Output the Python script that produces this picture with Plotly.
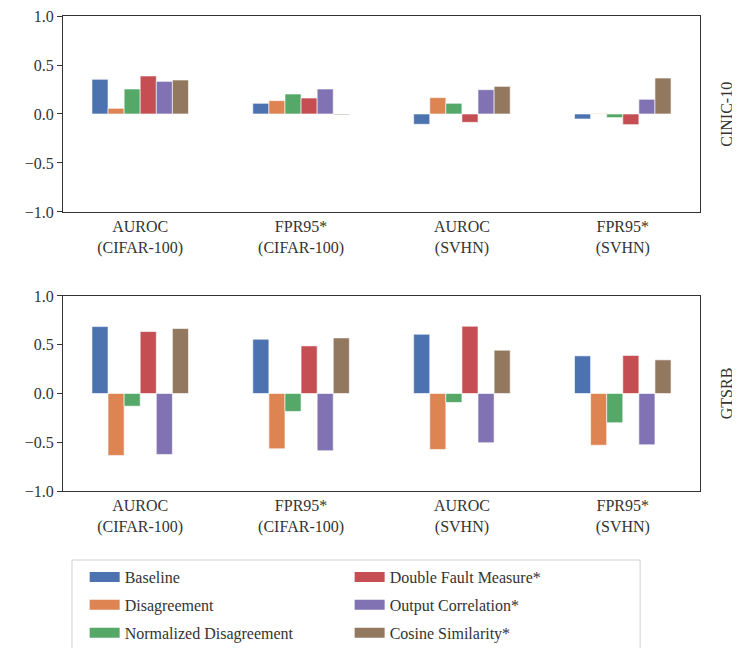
import plotly.graph_objects as go

groups = ["AUROC<br>(CIFAR-100)", "FPR95*<br>(CIFAR-100)", "AUROC<br>(SVHN)", "FPR95*<br>(SVHN)"]
series_names = ["Baseline", "Disagreement", "Normalized Disagreement",
                "Double Fault Measure*", "Output Correlation*", "Cosine Similarity*"]
colors = ["#4C72B0", "#DD8452", "#55A868", "#C44E52", "#8172B3", "#937860"]
legend_slot = ["legend", "legend", "legend", "legend2", "legend2", "legend2"]

cinic_values = [
    [0.354, 0.109, -0.105, -0.051],   # Baseline
    [0.058, 0.136, 0.167, 0.005],     # Disagreement
    [0.255, 0.204, 0.109, -0.037],    # Normalized Disagreement
    [0.388, 0.163, -0.085, -0.109],   # Double Fault Measure*
    [0.333, 0.255, 0.248, 0.150],     # Output Correlation*
    [0.347, -0.008, 0.282, 0.367],    # Cosine Similarity*
]
gtsrb_values = [
    [0.686, 0.557, 0.608, 0.386],
    [-0.635, -0.567, -0.574, -0.530],
    [-0.130, -0.184, -0.092, -0.300],
    [0.635, 0.488, 0.690, 0.390],
    [-0.625, -0.587, -0.505, -0.526],
    [0.666, 0.570, 0.444, 0.345],
]
row_labels = ["CINIC-10", "GTSRB"]
y_ticks = [-1.0, -0.5, 0.0, 0.5, 1.0]
y_tick_text = ["\u22121.0", "\u22120.5", "0.0", "0.5", "1.0"]

FONT = "Liberation Serif"
TXT = "#333333"
fig = go.Figure()

for i, name in enumerate(series_names):
    fig.add_trace(go.Bar(x=groups, y=cinic_values[i], name=name, showlegend=False,
                         marker=dict(color=colors[i], line=dict(color="white", width=0.6)),
                         xaxis="x", yaxis="y", offsetgroup=str(i)))
for i, name in enumerate(series_names):
    fig.add_trace(go.Bar(x=groups, y=gtsrb_values[i], name=name, showlegend=False,
                         marker=dict(color=colors[i], line=dict(color="white", width=0.6)),
                         xaxis="x2", yaxis="y2", offsetgroup=str(i)))
# legend-only entries (wide colour patches like the reference)
for i, name in enumerate(series_names):
    fig.add_trace(go.Scatter(x=[None], y=[None], mode="lines", name=name,
                             line=dict(color=colors[i], width=12),
                             legend=legend_slot[i], legendgroup=name,
                             xaxis="x", yaxis="y", hoverinfo="skip"))

axis_common = dict(showline=True, linecolor=TXT, linewidth=1.2, mirror=True, automargin=False,
                   showgrid=False, zeroline=False, ticklabeloverflow="allow",
                   tickfont=dict(family=FONT, size=16, color=TXT))
xcommon = dict(type="category", range=[-0.48, 3.48], ticks="", **axis_common)
ycommon = dict(range=[-1, 1], tickvals=y_ticks, ticktext=y_tick_text, ticks="outside",
               ticklen=5, tickcolor=TXT, **axis_common)

top_dom = [0.6899, 1.0]
bot_dom = [0.2484, 0.557]
leg_common = dict(orientation="v", yanchor="top", xanchor="left", y=0.139,
                  bgcolor="rgba(0,0,0,0)", borderwidth=0, tracegroupgap=4,
                  font=dict(family=FONT, size=16, color=TXT))
fig.update_layout(
    width=732, height=640,
    margin=dict(l=55, r=40, t=8, b=0, autoexpand=False),
    paper_bgcolor="white", plot_bgcolor="white",
    barmode="group", bargap=0.4, bargroupgap=0,
    font=dict(family=FONT, size=16, color=TXT),
    xaxis=dict(domain=[0, 1], anchor="y", **xcommon),
    yaxis=dict(domain=top_dom, anchor="x", **ycommon),
    xaxis2=dict(domain=[0, 1], anchor="y2", **xcommon),
    yaxis2=dict(domain=bot_dom, anchor="x2", **ycommon),
    legend=dict(x=0.034, **leg_common),
    legend2=dict(x=0.450, **leg_common),
    showlegend=True,
)
fig.add_shape(type="rect", xref="paper", yref="paper", x0=0.0141, x1=0.906, y0=-0.1, y1=0.1392,
              line=dict(color="#d0d0d0", width=1), fillcolor="rgba(0,0,0,0)", layer="below")
for lab, dom in zip(row_labels, [top_dom, bot_dom]):
    fig.add_annotation(text=lab, xref="paper", yref="paper", x=1.042, y=(dom[0] + dom[1]) / 2,
                       textangle=-90, showarrow=False, xanchor="center", yanchor="middle",
                       font=dict(family=FONT, size=16, color=TXT))

fig.write_html("out.html")
